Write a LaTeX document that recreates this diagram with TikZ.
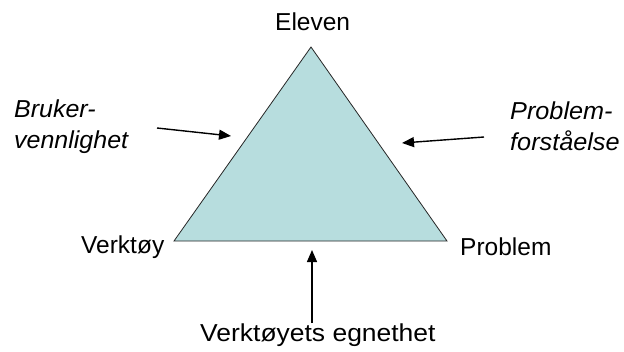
\documentclass[tikz,border=0pt]{standalone}
\usepackage{fontspec}
\setmainfont{Liberation Sans}
\usetikzlibrary{arrows.meta}
\definecolor{trifill}{RGB}{183,221,222}
\begin{document}
\begin{tikzpicture}[x=1pt,y=-1pt,
  lbl/.style={inner sep=0pt,anchor=base west,font=\fontsize{24.5}{28}\selectfont},
  ilbl/.style={inner sep=0pt,anchor=base west,align=left,font=\fontsize{24.5}{31}\selectfont\itshape},
  arr/.style={line width=1.4pt,-{Triangle[length=12pt,width=10pt]}}]
\useasboundingbox (0,0) rectangle (624,351);
\coordinate (A) at (311,47);
\coordinate (B) at (174,241);
\coordinate (C) at (447,241);
\draw[fill=trifill,line width=0.8pt,draw=black!85] (A) -- (B) -- (C) -- cycle;
\node[lbl] (eleven) at (275,30) {Eleven};
\node[lbl] (verktoy) at (81,253) {Verktøy};
\node[lbl] (problem) at (460,255) {Problem};
\node[lbl,xscale=1.08] (egnet) at (200,341) {Verktøyets egnethet};
\node[ilbl,xscale=1.02] (bruker) at (14,148) {Bruker-\\vennlighet};
\node[ilbl,xscale=1.03] (forst) at (510,150) {Problem-\\forståelse};
\coordinate (l0) at (157,128);
\coordinate (l1) at (231,136);
\coordinate (r0) at (484,137);
\coordinate (r1) at (402,143);
\coordinate (b0) at (312,323);
\coordinate (b1) at (312,250);
\draw[arr] (l0) -- (l1);
\draw[arr] (r0) -- (r1);
\draw[arr] (b0) -- (b1);
\end{tikzpicture}
\end{document}
